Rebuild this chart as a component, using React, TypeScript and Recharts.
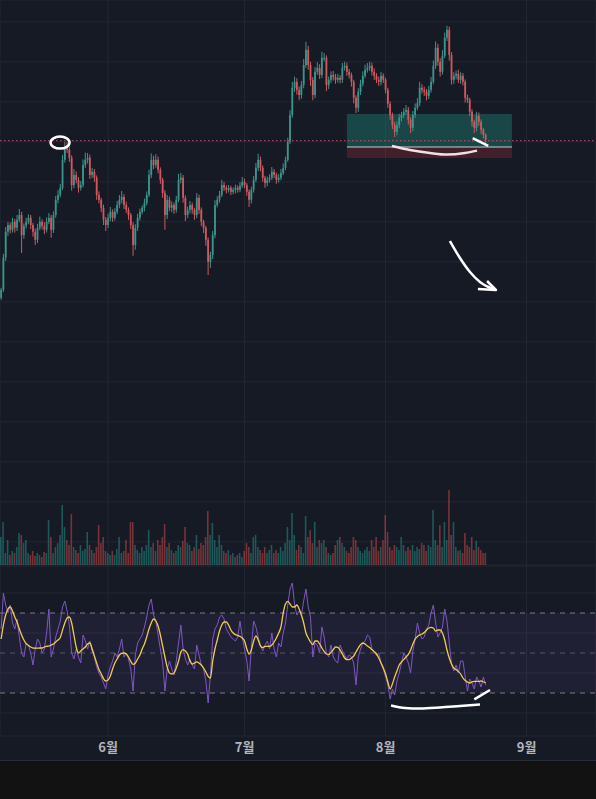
import React from 'react'
import { ComposedChart, Bar, Line, XAxis, YAxis, CartesianGrid, ReferenceLine, ReferenceArea, ReferenceDot, Cell } from 'recharts'

// 12h candles, index i sits at t = i + 0.5
const firstOpen = 61
const closes = [
  63.0, 71.0, 77.5, 79.2, 78.0, 80.0, 78.5, 80.5, 81.7, 76.7,
  79.0, 80.0, 81.0, 79.2, 77.5, 75.5, 78.5, 80.0, 79.0, 78.0,
  80.0, 81.0, 78.0, 81.7, 85.5, 86.7, 88.5, 95.5, 98.5, 98.0,
  96.0, 89.2, 91.7, 90.5, 88.5, 89.2, 94.2, 95.5, 96.0, 91.7,
  92.5, 91.0, 86.7, 85.5, 83.5, 80.5, 79.2, 81.0, 82.5, 81.0,
  82.5, 84.2, 85.5, 86.2, 84.2, 83.0, 81.7, 79.2, 74.2, 78.5,
  81.0, 82.5, 83.5, 84.7, 86.7, 91.7, 95.5, 94.2, 95.5, 93.0,
  90.5, 87.2, 81.7, 85.5, 83.5, 84.2, 83.0, 85.5, 90.5, 91.0,
  86.0, 81.7, 83.0, 84.2, 83.0, 81.7, 86.0, 83.0, 80.0, 78.5,
  75.5, 70.0, 71.7, 76.7, 84.2, 85.5, 86.7, 89.2, 88.5, 88.0,
  88.5, 87.5, 88.0, 88.5, 88.0, 89.0, 90.0, 89.2, 87.5, 85.5,
  88.0, 90.5, 93.5, 95.5, 93.5, 91.0, 89.7, 90.5, 91.0, 92.5,
  91.7, 90.5, 91.0, 92.2, 93.5, 95.5, 100.0, 106.7, 113.5, 115.0,
  113.0, 111.7, 114.2, 119.2, 123.0, 119.2, 115.5, 111.7, 117.5, 118.5,
  116.7, 121.0, 121.0, 114.2, 115.5, 116.7, 116.2, 115.5, 116.0, 115.5,
  118.5, 119.0, 117.5, 116.7, 115.0, 111.0, 108.5, 112.5, 114.5, 116.5,
  118.0, 118.5, 119.0, 117.5, 116.5, 115.5, 115.0, 116.5, 115.5, 113.0,
  109.5, 106.7, 104.2, 102.5, 104.2, 106.0, 106.7, 107.5, 108.0, 105.5,
  103.5, 106.7, 108.5, 109.7, 113.5, 113.0, 112.5, 111.5, 113.0, 115.0,
  119.0, 123.5, 120.0, 117.5, 121.5, 126.0, 128.0, 121.7, 115.5, 116.5,
  117.0, 115.5, 116.5, 115.0, 111.0, 110.5, 107.5, 105.0, 103.5, 106.5,
  105.0, 103.0, 101.7, 100.5,
]
const wickHi = [
  0.5, 1.0, 1.2, 0.8, 0.6, 1.0, 0.7, 1.2, 1.5, 0.8,
  0.6, 1.0, 0.9, 0.7, 0.5, 0.8, 1.0, 1.3, 0.6, 0.9,
  1.1, 1.2, 0.7, 0.9, 1.0, 1.3, 1.0, 1.2, 1.5, 1.5,
  0.8, 0.6, 1.5, 0.9, 0.7, 1.0, 1.4, 1.8, 1.2, 0.8,
  1.0, 0.7, 0.6, 0.9, 0.5, 0.8, 0.7, 1.0, 1.2, 0.6,
  0.9, 1.0, 1.2, 1.5, 0.7, 0.8, 0.6, 0.5, 0.7, 0.9,
  1.0, 0.8, 0.6, 1.1, 0.9, 1.3, 1.6, 1.0, 1.4, 0.8,
  0.6, 0.5, 0.7, 1.2, 0.8, 0.9, 0.6, 1.0, 1.5, 1.2,
  0.7, 0.6, 0.8, 1.0, 0.6, 0.5, 1.2, 0.8, 0.6, 0.5,
  0.5, 0.6, 0.8, 1.0, 1.2, 0.9, 1.0, 1.3, 0.8, 0.6,
  0.7, 0.5, 0.6, 0.8, 0.6, 0.9, 1.2, 0.8, 0.5, 0.6,
  0.8, 1.0, 1.2, 1.5, 0.8, 0.6, 0.5, 0.8, 0.9, 1.2,
  0.7, 0.6, 0.9, 1.0, 1.1, 0.8, 1.0, 1.2, 1.5, 1.3,
  0.9, 0.8, 1.0, 1.5, 2.0, 1.0, 0.8, 0.7, 1.2, 1.4,
  0.9, 1.5, 1.2, 0.6, 0.8, 0.9, 1.0, 0.8, 1.0, 0.7,
  1.2, 1.0, 0.8, 0.7, 0.6, 0.5, 0.6, 0.9, 1.0, 1.1,
  1.3, 1.2, 1.0, 0.8, 0.9, 0.7, 0.8, 1.0, 0.6, 0.5,
  0.5, 0.6, 0.6, 0.8, 0.9, 1.0, 0.8, 0.9, 1.2, 0.7,
  0.6, 1.0, 1.1, 1.2, 1.5, 0.9, 0.8, 0.7, 1.0, 1.2,
  1.3, 1.6, 1.0, 0.9, 1.4, 1.3, 1.0, 0.8, 0.7, 0.9,
  0.8, 1.0, 0.9, 0.7, 0.6, 0.8, 0.5, 0.6, 0.5, 1.0,
  0.8, 0.6, 0.5, 0.4,
]
const wickLo = [
  0.5, 0.6, 0.8, 1.0, 0.9, 0.7, 1.2, 0.8, 0.6, 4.5,
  0.9, 0.7, 0.6, 1.0, 1.2, 1.3, 0.8, 0.6, 0.9, 1.1,
  0.7, 0.6, 2.0, 0.8, 0.7, 0.9, 0.6, 0.5, 0.7, 0.8,
  1.0, 1.4, 0.8, 0.9, 1.2, 0.7, 0.6, 0.8, 0.9, 1.0,
  0.8, 1.0, 1.2, 0.9, 1.1, 1.3, 1.5, 0.8, 0.9, 1.0,
  0.7, 0.6, 0.8, 0.9, 1.0, 0.8, 1.2, 1.0, 2.7, 1.2,
  0.8, 0.7, 0.6, 0.9, 0.6, 0.5, 0.8, 1.0, 0.7, 0.9,
  1.0, 1.2, 3.7, 1.0, 0.8, 1.1, 1.0, 0.7, 0.6, 0.9,
  1.2, 1.5, 0.8, 0.9, 1.0, 1.2, 0.8, 1.0, 1.1, 1.3,
  1.5, 3.3, 1.5, 1.0, 0.8, 0.6, 0.7, 0.5, 0.8, 0.9,
  0.7, 0.8, 0.6, 0.9, 0.7, 0.6, 0.5, 0.8, 1.0, 1.8,
  0.9, 0.7, 0.6, 0.8, 0.9, 1.0, 1.2, 0.8, 0.7, 0.6,
  0.8, 1.0, 0.7, 0.6, 0.5, 0.6, 0.5, 0.6, 0.7, 1.0,
  1.2, 1.3, 0.9, 0.8, 0.7, 1.2, 1.5, 1.3, 0.8, 0.7,
  1.0, 0.8, 0.9, 1.5, 1.0, 0.8, 0.9, 1.0, 0.7, 0.9,
  0.8, 0.7, 1.0, 0.9, 1.2, 1.4, 1.3, 1.0, 0.8, 0.7,
  0.6, 0.7, 0.8, 0.9, 1.0, 0.8, 1.0, 0.9, 0.8, 0.9,
  1.0, 1.2, 1.0, 1.3, 0.9, 0.8, 0.9, 0.7, 0.8, 1.2,
  1.3, 0.9, 0.7, 0.6, 0.8, 0.9, 1.0, 1.1, 0.8, 0.7,
  0.6, 0.8, 1.0, 1.2, 0.7, 0.6, 0.8, 1.4, 1.2, 1.0,
  0.9, 0.8, 1.0, 0.9, 1.2, 0.8, 1.0, 1.2, 1.3, 0.9,
  1.0, 1.1, 0.9, 1.0,
]
const volumes = [
  28, 43, 12, 25, 10, 14, 12, 18, 32, 30,
  22, 25, 12, 10, 14, 9, 12, 10, 8, 13,
  12, 45, 28, 12, 18, 22, 30, 60, 38, 25,
  20, 51, 18, 15, 12, 20, 14, 16, 33, 20,
  15, 12, 18, 40, 22, 28, 14, 12, 10, 14,
  10, 16, 28, 12, 14, 25, 12, 43, 43, 20,
  15, 12, 18, 14, 20, 35, 18, 22, 14, 25,
  20, 28, 41, 18, 22, 15, 12, 14, 20, 18,
  24, 38, 22, 20, 14, 18, 30, 16, 22, 20,
  28, 54, 30, 42, 25, 18, 30, 20, 14, 12,
  15, 10, 12, 8, 10, 12, 8, 14, 22, 18,
  12, 28, 30, 18, 15, 12, 18, 12, 15, 20,
  12, 15, 12, 18, 14, 22, 38, 25, 52, 30,
  15, 20, 18, 12, 49, 28, 35, 22, 43, 18,
  25, 22, 25, 18, 12, 10, 12, 20, 25, 28,
  22, 18, 14, 12, 18, 28, 25, 18, 14, 12,
  15, 18, 14, 25, 18, 28, 14, 18, 25, 50,
  33, 18, 15, 20, 18, 15, 28, 20, 14, 18,
  15, 20, 14, 18, 16, 22, 20, 14, 20, 18,
  55, 25, 20, 40, 18, 43, 25, 75, 30, 43,
  18, 14, 15, 12, 32, 20, 18, 28, 15, 24,
  18, 15, 12, 12,
]
const rsi = [
  62, 80, 74, 70, 74, 65, 62, 67, 58, 50,
  48, 55, 54, 50, 44, 52, 57, 55, 50, 52,
  60, 72, 48, 52, 58, 62, 66, 73, 76, 71,
  64, 50, 47, 52, 48, 45, 59, 56, 52, 56,
  51, 48, 43, 40, 38, 35, 32, 39, 43, 46,
  50, 48, 52, 57, 48, 50, 47, 42, 31, 49,
  55, 57, 59, 63, 68, 74, 77, 69, 66, 59,
  52, 45, 31, 42, 46, 42, 39, 46, 55, 64,
  52, 47, 44, 47, 44, 42, 54, 49, 44, 42,
  36, 25, 39, 57, 62, 64, 68, 69, 67, 62,
  60, 58, 57, 56, 58, 66, 58, 52, 46, 36,
  53, 66, 63, 58, 54, 51, 54, 56, 52, 60,
  52, 48, 55, 53, 60, 65, 74, 82, 85, 74,
  69, 71, 69, 76, 82, 73, 68, 48, 55, 54,
  50, 63, 58, 50, 48, 54, 48, 46, 45, 54,
  51, 49, 47, 49, 48, 45, 34, 48, 52, 55,
  56, 59, 58, 52, 50, 49, 50, 45, 42, 38,
  34, 27, 32, 29, 36, 40, 45, 50, 48, 45,
  40, 51, 57, 65, 60, 57, 58, 62, 64, 70,
  74, 65, 58, 60, 63, 72, 66, 55, 44, 41,
  44, 40, 46, 46, 38, 31, 37, 35, 32, 38,
  36, 33, 38, 34,
]
const rsiMa = [
  57, 64, 69, 72, 73, 71, 68, 65.5, 62, 59,
  56.5, 54.7, 53.8, 53, 52.5, 52.4, 52.4, 52.5, 52.5, 53,
  53.3, 53.5, 54, 54.5, 55.5, 56.5, 57.8, 61.5, 65, 67.5,
  68, 65, 59, 53, 50, 51, 52, 53, 54.5, 55,
  52, 48.5, 45, 41.8, 39.5, 37.2, 36, 36.5, 38.5, 42,
  45, 47, 49, 49.8, 50, 49.5, 48, 45.8, 44.3, 45,
  47, 49, 52, 54.5, 58, 62, 65, 67, 66, 63.5,
  59, 53.5, 48, 43, 40, 39.5, 40, 42.5, 46, 50.5,
  51.7, 51, 49.5, 46, 44.5, 45, 45.6, 45, 44, 42.5,
  40.5, 38.3, 37.5, 46, 52, 56.5, 61, 64, 65.5, 65.5,
  64, 61.5, 60, 59.2, 58.8, 58.3, 57.5, 56, 52, 49.5,
  51.5, 56, 58.5, 56.5, 53.5, 52.7, 53.3, 53.3, 53.3, 54,
  55.5, 57.5, 60, 63, 70, 74.5, 75.8, 74.5, 73, 73,
  74, 72, 69, 65, 60, 57.5, 55.5, 54.2, 56, 56,
  54.5, 52.5, 50.8, 49.5, 49.3, 50.3, 51.7, 53, 52.8, 51.5,
  49.5, 47.5, 46.7, 46.7, 47.5, 48.5, 50.5, 52.5, 54.2, 55,
  54.5, 53.5, 52.7, 51.7, 50.7, 49.5, 47.5, 45, 42.5, 39.5,
  35.5, 32, 34.5, 38, 41, 44, 45.5, 46.8, 48, 49.3,
  51.5, 54.5, 57, 58.3, 59, 59.5, 60.2, 61.5, 62.5, 62.8,
  62.5, 61, 61.5, 61.5, 60, 56.5, 51.5, 47.5, 44.5, 42.5,
  41.7, 40.8, 39.5, 37.5, 36.2, 35.5, 35, 35.6, 35.8, 35.8,
  35.8, 36, 35.5, 35.2,
]
const monthTicks = [47.5, 107.5, 169.5, 231.5]
const monthLabels = ['6월', '7월', '8월', '9월']
const priceTicks = [0, 10, 20, 30, 40, 50, 60, 70, 80, 90, 100, 110, 120, 130]
const rsiTicks = [20, 40, 60, 80]

// hand drawn marks, in chart units (t, value)
const lowCurve = [{ t: 172.3, v: 98.95 }, { t: 180.2, v: 97.95 }, { t: 189.0, v: 97.2 }, { t: 196.5, v: 96.8 }, { t: 204.4, v: 97.2 }, { t: 209.7, v: 97.8 }]
const lastSlash = [{ t: 207.8, v: 100.9 }, { t: 214.6, v: 99.0 }]
const arrowShaft = [{ t: 197.8, v: 75.2 }, { t: 202.2, v: 70.95 }, { t: 206.6, v: 67.45 }, { t: 211.0, v: 64.95 }, { t: 216.7, v: 63.2 }]
const arrowHead = [{ t: 210.1, v: 63.2 }, { t: 218.0, v: 62.95 }, { t: 214.1, v: 65.2 }]
const rsiCurve = [{ t: 171.9, v: 23.75 }, { t: 178.0, v: 22.5 }, { t: 184.6, v: 22.25 }, { t: 193.4, v: 22.75 }, { t: 202.2, v: 23.5 }, { t: 211.0, v: 24.25 }]
const rsiSlash = [{ t: 208.5, v: 26.85 }, { t: 215.4, v: 31.5 }]

const BG = '#161a25'
const GRID = '#232733'
const UP = '#3a958a'
const DOWN = '#d2585f'
const W = 596
const X_DOMAIN = [0, 262]

const rows = closes.map((c, i) => {
  const o = i === 0 ? firstOpen : closes[i - 1]
  const high = Math.max(o, c) + wickHi[i]
  const low = Math.min(o, c) - wickLo[i]
  return { t: i + 0.5, open: o, close: c, high, low, range: [low, high], vol: volumes[i], up: c >= o, rsi: rsi[i], ma: rsiMa[i] }
})

function Candle(props: any) {
  const { x, y, width, height, payload } = props
  if (!payload) return null
  const { open, close, high, low } = payload
  const top = Math.min(y, y + height)
  const h = Math.abs(height)
  const k = high - low > 0 ? h / (high - low) : 0
  const cx = x + width / 2
  const bTop = top + (high - Math.max(open, close)) * k
  const bH = Math.max(1, Math.abs(open - close) * k)
  const col = close >= open ? UP : DOWN
  return (
    <g>
      <line x1={cx} x2={cx} y1={top} y2={top + h} stroke={col} strokeWidth={1} />
      <rect x={cx - 0.9} y={bTop} width={1.8} height={bH} fill={col} />
    </g>
  )
}

function MonthTick(props: any) {
  const i = monthTicks.indexOf(props.payload.value)
  return (
    <text x={props.x} y={props.y + 10} textAnchor="middle" dominantBaseline="central" fill="#b2b5be" fontSize={13} fontWeight={600} fontFamily="'Noto Sans CJK KR', 'Noto Sans', sans-serif">
      {monthLabels[i]}
    </text>
  )
}

const white = '#ffffff'

export default function App() {
  return (
    <div style={{ width: W, height: 799, background: '#121212', position: 'relative', overflow: 'hidden' }}>
      <style>{'body{margin:0}'}</style>
      <div style={{ position: 'absolute', left: 0, top: 0, width: W, height: 760, background: BG }} />
      <div style={{ position: 'absolute', left: 0, top: 760, width: W, height: 1, background: '#2a2e39' }} />

      {/* price pane */}
      <div style={{ position: 'absolute', left: 0, top: 0 }}>
        <ComposedChart width={W} height={565} data={rows} margin={{ top: 0, right: 0, bottom: 0, left: 0 }}>
          <CartesianGrid stroke={GRID} />
          <XAxis dataKey="t" type="number" domain={X_DOMAIN} ticks={monthTicks} interval={0} hide />
          <YAxis type="number" domain={[-5.8, 135.45]} ticks={priceTicks} hide allowDataOverflow />
          <ReferenceArea x1={152.5} x2={225.05} y1={98.7} y2={106.95} fill="rgba(34,171,148,0.3)" fillOpacity={1} stroke="none" />
          <ReferenceArea x1={152.5} x2={225.05} y1={95.95} y2={98.7} fill="rgba(242,54,69,0.2)" fillOpacity={1} stroke="none" />
          <Bar dataKey="range" barSize={1.8} shape={Candle} isAnimationActive={false} />
          <ReferenceLine y={100.27} stroke="#c2506a" strokeDasharray="1.5 2.5" strokeWidth={1} />
          <ReferenceLine segment={[{ x: 152.5, y: 98.7 }, { x: 225.05, y: 98.7 }]} stroke="#c9ccd4" strokeWidth={1} />
          <Line data={lowCurve} dataKey="v" type="monotone" stroke="#f6dde3" strokeWidth={2.5} dot={false} isAnimationActive={false} />
          <Line data={lastSlash} dataKey="v" type="linear" stroke={white} strokeWidth={2.5} dot={false} isAnimationActive={false} />
          <Line data={arrowShaft} dataKey="v" type="monotone" stroke={white} strokeWidth={2.5} dot={false} isAnimationActive={false} />
          <Line data={arrowHead} dataKey="v" type="linear" stroke={white} strokeWidth={2.5} strokeLinejoin="round" dot={false} isAnimationActive={false} />
          <ReferenceDot x={26.4} y={99.8} shape={(p: any) => <ellipse cx={p.cx} cy={p.cy} rx={9.5} ry={6} fill="none" stroke={white} strokeWidth={2.5} />} />
        </ComposedChart>
      </div>

      {/* volume overlay */}
      <div style={{ position: 'absolute', left: 0, top: 0 }}>
        <ComposedChart width={W} height={565} data={rows} margin={{ top: 0, right: 0, bottom: 0, left: 0 }}>
          <XAxis dataKey="t" type="number" domain={X_DOMAIN} hide />
          <YAxis type="number" domain={[0, 565]} hide />
          <Bar dataKey="vol" barSize={1.6} isAnimationActive={false}>
            {rows.map((r, i) => (
              <Cell key={i} fill={r.up ? 'rgba(38,166,154,0.45)' : 'rgba(239,83,80,0.45)'} />
            ))}
          </Bar>
        </ComposedChart>
      </div>

      <div style={{ position: 'absolute', left: 0, top: 565, width: W, height: 1, background: '#1e222d' }} />

      {/* RSI pane + time axis */}
      <div style={{ position: 'absolute', left: 0, top: 566 }}>
        <ComposedChart width={W} height={194} data={rows} margin={{ top: 0, right: 0, bottom: 0, left: 0 }}>
          <CartesianGrid stroke={GRID} />
          <XAxis dataKey="t" type="number" domain={X_DOMAIN} ticks={monthTicks} interval={0} height={24} axisLine={false} tickLine={false} tickSize={0} tickMargin={0} tick={MonthTick} />
          <YAxis type="number" domain={[8.5, 93.5]} ticks={rsiTicks} hide allowDataOverflow />
          <ReferenceArea y1={30} y2={70} fill="#7e57c2" fillOpacity={0.1} stroke="none" />
          <ReferenceLine y={70} stroke="#787b86" strokeDasharray="5 5" />
          <ReferenceLine y={50} stroke="#787b86" strokeDasharray="5 5" strokeOpacity={0.6} />
          <ReferenceLine y={30} stroke="#787b86" strokeDasharray="5 5" />
          <Line dataKey="rsi" type="linear" stroke="#7e57c2" strokeWidth={1} dot={false} isAnimationActive={false} />
          <Line dataKey="ma" type="monotone" stroke="#f2cd4a" strokeWidth={1.3} dot={false} isAnimationActive={false} />
          <Line data={rsiCurve} dataKey="v" type="monotone" stroke={white} strokeWidth={2.5} dot={false} isAnimationActive={false} />
          <Line data={rsiSlash} dataKey="v" type="linear" stroke={white} strokeWidth={2.5} dot={false} isAnimationActive={false} />
        </ComposedChart>
      </div>
    </div>
  )
}
